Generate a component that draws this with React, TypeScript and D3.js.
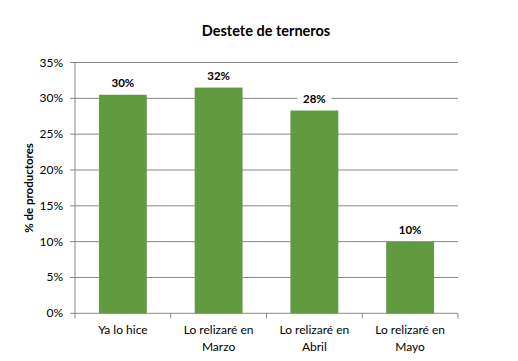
import React from "react";
import * as d3 from "d3";

const categories: string[][] = [["Ya lo hice"], ["Lo relizaré en", "Marzo"], ["Lo relizaré en", "Abril"], ["Lo relizaré en", "Mayo"]];
const values: number[] = [30.5, 31.5, 28.3, 10.0];
const labels: string[] = ["30%", "32%", "28%", "10%"];
const yTicks: number[] = [0, 5, 10, 15, 20, 25, 30, 35];

const W = 518, H = 361;
const left = 75, right = 458, top = 62.5, bottom = 313.3;
const FONT = "Lato, 'Open Sans', sans-serif";

export default function App() {
  const y = d3.scaleLinear().domain([0, 35]).range([bottom, top]);
  const x = d3.scaleBand<number>().domain(categories.map((_, i) => i)).range([left, right]).paddingInner(0.5).paddingOuter(0.25);
  const band = d3.scaleBand<number>().domain(categories.map((_, i) => i)).range([left, right]);
  return (
    <svg width={W} height={H} style={{ position: "absolute", left: 0, top: 0, background: "#fff" }}>
      <text x={266} y={36} textAnchor="middle" fontFamily={FONT} fontWeight="bold" fontSize={14.5} fill="#000">Destete de terneros</text>
      {yTicks.map((t) => (
        <g key={t}>
          <line x1={left - 5} x2={right} y1={y(t)} y2={y(t)} stroke="#878787" strokeWidth={1} />
          <text x={63} y={y(t) + 4} textAnchor="end" fontFamily={FONT} fontSize={12} fill="#000">{t}%</text>
        </g>
      ))}
      <line x1={left} x2={left} y1={top} y2={bottom} stroke="#878787" />
      {band.domain().map((d) => (
        <line key={"t" + d} x1={band(d)!} x2={band(d)!} y1={bottom} y2={bottom + 5} stroke="#878787" />
      ))}
      <line x1={right} x2={right} y1={bottom} y2={bottom + 5} stroke="#878787" />
      {values.map((v, i) => (
        <g key={i}>
          <rect x={x(i)!} y={y(v)} width={x.bandwidth()} height={bottom - y(v)} fill="#629a40" />
          <rect x={x(i)! + x.bandwidth() / 2 - 17} y={y(v) - 20} width={34} height={15} fill="#fff" />
          <text x={x(i)! + x.bandwidth() / 2} y={y(v) - 8} textAnchor="middle" fontFamily={FONT} fontWeight="bold" fontSize={11.5} fill="#000">{labels[i]}</text>
          {categories[i].map((line, j) => (
            <text key={j} x={x(i)! + x.bandwidth() / 2} y={334 + j * 17} textAnchor="middle" fontFamily={FONT} fontSize={12} fill="#000">{line}</text>
          ))}
        </g>
      ))}
      <text transform={`translate(33,${(top + bottom) / 2}) rotate(-90)`} textAnchor="middle" fontFamily={FONT} fontWeight="bold" fontSize={11.5} fill="#000">% de productores</text>
    </svg>
  );
}
